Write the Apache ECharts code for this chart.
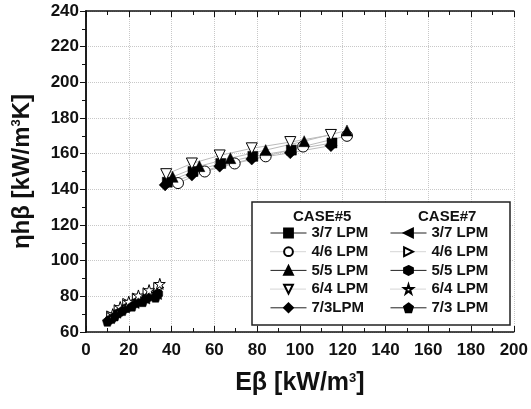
<!DOCTYPE html>
<html>
<head>
<meta charset="utf-8">
<title>eta h beta vs E beta</title>
<script src="https://cdn.jsdelivr.net/npm/echarts@6/dist/echarts.min.js"></script>
<style>
  body { margin: 0; background: #fff; }
  #main { width: 531px; height: 409px; }
</style>
</head>
<body>
<div id="main"></div>
<script type="text/javascript">

// CASE#5 (upper cluster)
var c5_37_x = [38, 50, 63, 78, 96, 115];
var c5_37_y = [144, 150, 154.5, 158.5, 162, 166];
var c5_46_x = [43, 55.5, 69.5, 84, 101.5, 122];
var c5_46_y = [143.5, 150, 154.5, 158.5, 164, 170];
var c5_55_x = [40.5, 53, 67.5, 84, 102, 122];
var c5_55_y = [147, 153, 157.5, 162, 167, 173];
var c5_64_x = [37.5, 49.5, 62.5, 77.5, 95.5, 114.5];
var c5_64_y = [148.5, 154.5, 159, 163, 166.5, 170.5];
var c5_73_x = [37, 49.5, 62.5, 77.5, 95.5, 114.5];
var c5_73_y = [142.5, 148, 153, 157, 160.5, 164.5];

// CASE#7 (lower cluster)
var c7_37_x = [11, 14, 18, 22.5, 27.5, 33];
var c7_37_y = [67.5, 70.5, 73.5, 76, 78.5, 81];
var c7_46_x = [12, 15.5, 19.5, 24, 29, 34];
var c7_46_y = [69, 72.5, 76, 79, 82, 85];
var c7_55_x = [11.5, 15, 19, 23.5, 28.5, 33.5];
var c7_55_y = [67, 70.5, 73.5, 76.5, 79, 81.5];
var c7_64_x = [12.5, 16, 20, 24.5, 29.5, 34.5];
var c7_64_y = [70, 74, 77, 80.5, 83.5, 87];
var c7_73_x = [10, 13.5, 17, 21.5, 26.5, 32.5];
var c7_73_y = [66, 69, 72, 74.5, 77, 79.5];

var names5 = ['3/7 LPM', '4/6 LPM', '5/5 LPM', '6/4 LPM', '7/3LPM'];
var names7 = ['3/7 LPM', '4/6 LPM', '5/5 LPM', '6/4 LPM', '7/3 LPM'];

// marker shapes
var triDown = 'path://M0,0L10,0L5,9Z';
var triLeft = 'path://M0,5L9,0L9,10Z';
var triRight = 'path://M9,5L0,0L0,10Z';
var hexagon = 'path://M5,0L9.33,2.5L9.33,7.5L5,10L0.67,7.5L0.67,2.5Z';
var star = 'path://M5,0L6.18,3.6L10,3.6L6.9,5.85L8.1,9.5L5,7.25L1.9,9.5L3.1,5.85L0,3.6L3.82,3.6Z';
var pentagon = 'path://M5,0L10,3.8L8.1,10L1.9,10L0,3.8Z';

var FONT = 'Liberation Sans';

function pts(xs, ys) {
    var d = [];
    for (var i = 0; i < xs.length; i++) d.push([xs[i], ys[i]]);
    return d;
}

function mk(name, xs, ys, symbol, size, hollow) {
    return {
        type: 'line',
        name: name,
        data: pts(xs, ys),
        symbol: symbol,
        symbolSize: size,
        showAllSymbol: true,
        itemStyle: hollow
            ? { color: '#fff', borderColor: '#000', borderWidth: 1 }
            : { color: '#000', borderColor: '#000', borderWidth: 0.5 },
        lineStyle: { color: '#bbb', width: 1 },
        emphasis: { disabled: true },
        z: 2
    };
}

var series = [
    mk('#5 ' + names5[0], c5_37_x, c5_37_y, 'rect', 10, false),
    mk('#5 ' + names5[1], c5_46_x, c5_46_y, 'circle', 11, true),
    mk('#5 ' + names5[2], c5_55_x, c5_55_y, 'triangle', 11, false),
    mk('#5 ' + names5[3], c5_64_x, c5_64_y, triDown, 11, true),
    mk('#5 ' + names5[4], c5_73_x, c5_73_y, 'diamond', 12, false),
    mk('#7 ' + names7[0], c7_37_x, c7_37_y, triLeft, 10, false),
    mk('#7 ' + names7[1], c7_46_x, c7_46_y, triRight, 10, true),
    mk('#7 ' + names7[2], c7_55_x, c7_55_y, hexagon, 10, false),
    mk('#7 ' + names7[3], c7_64_x, c7_64_y, star, 11, true),
    mk('#7 ' + names7[4], c7_73_x, c7_73_y, pentagon, 10, false)
];

function legendData(prefix, names) {
    return names.map(function (n, i) {
        var dotted = (i === 1 || i === 3);
        return {
            name: prefix + n,
            lineStyle: dotted
                ? { color: '#aaa', width: 1, type: 'dotted' }
                : { color: '#222', width: 1, type: 'solid' }
        };
    });
}

function mkLegend(left, prefix, names) {
    return {
        orient: 'vertical',
        left: left,
        top: 225.5,
        padding: 0,
        itemWidth: 36,
        itemHeight: 11,
        itemGap: 3.7,
        selectedMode: false,
        z: 5,
        data: legendData(prefix, names),
        formatter: function (n) { return n.slice(3); },
        textStyle: { fontFamily: FONT, fontWeight: 'bold', fontSize: 15, color: '#111' }
    };
}

var axisLine = { show: true, lineStyle: { color: '#111', width: 1.5 } };
var split = { show: true, lineStyle: { color: '#c8c8c8', type: 'dotted', width: 1 } };
function nameStyle(size) {
    return {
        fontFamily: FONT, fontWeight: 'bold', fontSize: size, color: '#111',
        rich: { sup: { fontFamily: FONT, fontWeight: 'bold', fontSize: 13, color: '#111', padding: [0, 0, 11, 0] } }
    };
}

var chart = echarts.init(document.getElementById('main'));
chart.setOption({
    animation: false,
    backgroundColor: '#fff',
    grid: { left: 86, right: 17, top: 11, bottom: 77 },
    xAxis: [{
        type: 'value', min: 0, max: 200, interval: 20,
        position: 'bottom',
        axisLine: axisLine,
        axisTick: { inside: true, length: 6, lineStyle: { color: '#111' } },
        minorTick: { show: true, splitNumber: 2, length: 4, lineStyle: { color: '#111' } },
        axisLabel: { margin: 10, fontFamily: FONT, fontWeight: 'bold', fontSize: 17, color: '#111' },
        splitLine: split,
        name: 'Eβ [kW/m{sup|3}]',
        nameLocation: 'middle',
        nameGap: 39,
        nameTextStyle: nameStyle(25)
    }, {
        type: 'value', min: 0, max: 200, interval: 20,
        position: 'top',
        axisLine: axisLine,
        axisTick: { inside: true, length: 6, lineStyle: { color: '#111' } },
        minorTick: { show: true, splitNumber: 2, length: 4, lineStyle: { color: '#111' } },
        axisLabel: { show: false },
        splitLine: { show: false }
    }],
    yAxis: [{
        type: 'value', min: 60, max: 240, interval: 20,
        position: 'left',
        axisLine: axisLine,
        axisTick: { inside: false, length: 5, lineStyle: { color: '#111' } },
        minorTick: { show: true, splitNumber: 2, length: 3, lineStyle: { color: '#111' } },
        axisLabel: { margin: 7, fontFamily: FONT, fontWeight: 'bold', fontSize: 17, color: '#111' },
        splitLine: split,
        name: 'ηhβ [kW/m{sup|3}K]',
        nameLocation: 'middle',
        nameGap: 52,
        nameTextStyle: nameStyle(24)
    }, {
        type: 'value', min: 60, max: 240, interval: 20,
        position: 'right',
        axisLine: axisLine,
        axisTick: { inside: true, length: 6, lineStyle: { color: '#111' } },
        minorTick: { show: true, splitNumber: 2, length: 4, lineStyle: { color: '#111' } },
        axisLabel: { show: false },
        splitLine: { show: false }
    }],
    legend: [
        mkLegend(270, '#5 ', names5),
        mkLegend(390, '#7 ', names7)
    ],
    graphic: [{
        type: 'rect', z: 3,
        shape: { x: 252, y: 202, width: 258, height: 123 },
        style: { fill: '#fff', stroke: '#222', lineWidth: 1.5 }
    }, {
        type: 'text', z: 6, left: 293, top: 209,
        style: { text: 'CASE#5', fontFamily: FONT, fontWeight: 'bold', fontSize: 15, fill: '#111' }
    }, {
        type: 'text', z: 6, left: 418, top: 209,
        style: { text: 'CASE#7', fontFamily: FONT, fontWeight: 'bold', fontSize: 15, fill: '#111' }
    }],
    series: series
});
</script>
</body>
</html>
